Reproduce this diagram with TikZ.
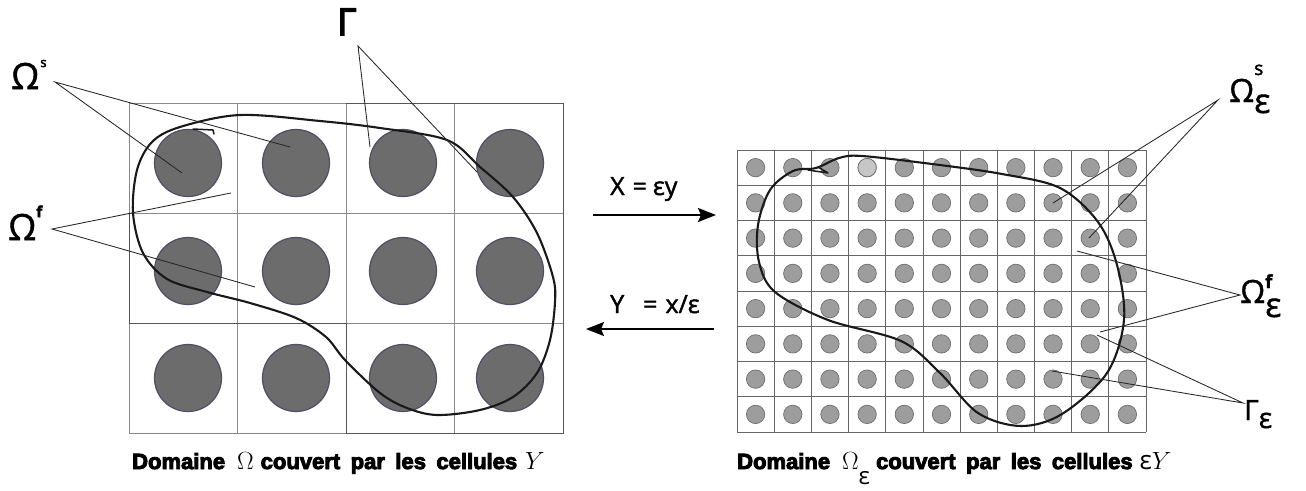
\documentclass[tikz,border=0pt]{standalone}
\usepackage{fontspec}
\setmainfont{Open Sans}
\newfontfamily\capfont{Liberation Sans}
\newfontfamily\thinfont{Open Sans}
\newcommand\heavyon[1]{\special{pdf:literal direct 2 Tr #1 w}}
\newcommand\heavyoff{\special{pdf:literal direct 0 Tr}}
\usetikzlibrary{arrows.meta}
\definecolor{discdark}{HTML}{6C6C6C}
\definecolor{discedge}{HTML}{4E4E66}
\definecolor{disclight}{HTML}{9D9D9D}
\definecolor{disclightedge}{HTML}{6E6E6E}
\definecolor{discpale}{HTML}{C6C6C6}
\definecolor{gridgray}{HTML}{8A8A8A}
\definecolor{griddark}{HTML}{555555}
\begin{document}
\begin{tikzpicture}[x=1pt,y=-1pt,
  gridline/.style={draw=gridgray,line width=0.8pt},
  gridstrong/.style={draw=griddark,line width=0.9pt},
  bigdisc/.style={circle,inner sep=0pt,minimum size=67pt,fill=discdark,draw=discedge,line width=1.2pt},
  smalldisc/.style={circle,inner sep=0pt,minimum size=18.4pt,fill=disclight,draw=disclightedge,line width=0.7pt},
  boundary/.style={draw=black!90,line width=2.1pt,line join=round,line cap=round},
  leader/.style={draw=black!85,line width=0.85pt},
  maparrow/.style={draw=black,line width=1.8pt,-{Stealth[length=18pt,width=14pt,inset=3pt]}},
  lbl/.style={inner sep=0pt,anchor=base west},
]
\useasboundingbox[fill=white] (0,0) rectangle (1306,490);

% ---------------- left grid ----------------
\foreach \k in {0,...,4} \draw[gridline] ({129+108.5*\k},103) -- ({129+108.5*\k},433);
\foreach \k in {0,...,3} \draw[gridline] (129,{103+110*\k}) -- (563,{103+110*\k});
\draw[gridstrong] (346,103) -- (563,103) -- (563,433) -- (346,433) -- (346,323);
\draw[gridstrong] (129,213) -- (129,323) -- (346,323);

\foreach \i/\x in {1/188,2/296,3/403,4/510}
  \foreach \j/\y in {1/163,2/271,3/378}
    \node[bigdisc] (c\i\j) at (\x,\y) {};

% ---------------- right grid ----------------
\foreach \k in {0,...,11} \draw[gridline,draw=black!60] ({737+37.18*\k},150) -- ({737+37.18*\k},432);
\foreach \k in {0,...,8} \draw[gridline,draw=black!60] (737,{150+35.25*\k}) -- (1146,{150+35.25*\k});
\foreach \i in {0,...,10}
  \foreach \j in {0,...,7}
    \node[smalldisc] (d\i-\j) at ({737+37.18*(\i+0.5)},{150+35.25*(\j+0.5)}) {};
\node[smalldisc,fill=discpale] (dpale) at (d3-0) {};

% ---------------- boundaries ----------------
\draw[boundary] plot[smooth cycle,tension=0.55] coordinates {
  (180,127) (240,115) (320,121) (380,128) (447,140) (480,167) (513,197) (537,233)
  (553,277) (555,302) (550,340) (537,373) (513,397) (480,410) (437,415) (407,408)
  (380,393) (345,360) (326,337) (296,318) (250,303) (207,292) (167,279) (143,253)
  (133,213) (137,170) (152,142)};
\draw[boundary,line width=1.5pt] (193,129) -- (213,130) -- (214,134);

\draw[boundary] plot[smooth cycle,tension=0.55] coordinates {
  (793,171) (770,190) (758,225) (759,262) (775,292) (828,320) (901,341) (940,373)
  (978,413) (1021,426) (1062,414) (1107,373) (1124,320) (1117,265) (1098,222)
  (1060,188) (1002,174) (932,164) (862,156) (839,158) (816,168)};
\draw[boundary,line width=1.5pt] (808,170) -- (828,173) (818,167) -- (828,173);

% ---------------- labels left ----------------
\node[lbl] (ls) at (11,89) {\heavyon{0.5}\fontsize{36}{36}\selectfont Ω\hspace{1pt}\raisebox{22pt}{\fontsize{13}{13}\selectfont s}\heavyoff};
\node[lbl] (lf) at (8,240) {\heavyon{0.5}\fontsize{36}{36}\selectfont Ω\raisebox{23pt}{\fontsize{15}{15}\selectfont\bfseries f}\heavyoff};
\node[lbl] (lg) at (337,35) {\heavyon{1.6}\fontsize{37}{37}\selectfont Γ\heavyoff};

\coordinate (ls-apex) at (55,82);
\coordinate (ls-e1) at (182,173);
\coordinate (ls-e2) at (290,147);
\coordinate (lf-apex) at (52,229);
\coordinate (lf-e1) at (231,193);
\coordinate (lf-e2) at (255,287);
\coordinate (lg-apex) at (358,46);
\coordinate (lg-e1) at (370,147);
\coordinate (lg-e2) at (477,172);
\draw[leader] (ls-e1) -- (ls-apex) -- (ls-e2);
\draw[leader] (lf-e1) -- (lf-apex) -- (lf-e2);
\draw[leader] (lg-e1) -- (lg-apex) -- (lg-e2);

% ---------------- labels right ----------------
\node[lbl] (rs) at (1229,102) {\heavyon{0.4}\fontsize{32}{32}\selectfont Ω\rlap{\raisebox{27pt}{\fontsize{19}{19}\selectfont s}}\raisebox{-11pt}{\fontsize{34}{34}\selectfont ε}\heavyoff};
\node[lbl] (rf) at (1240,303) {\heavyon{0.4}\fontsize{32}{32}\selectfont Ω\rlap{\raisebox{15pt}{\fontsize{18}{18}\selectfont\bfseries f}}\raisebox{-14pt}{\fontsize{34}{34}\selectfont ε}\heavyoff};
\node[lbl] (rg) at (1244,420) {\heavyon{0.4}\fontsize{28}{28}\selectfont Γ\raisebox{-8pt}{\fontsize{28}{28}\selectfont ε}\heavyoff};

\coordinate (rs-apex) at (1218,100);
\coordinate (rs-e1) at (1053,203);
\coordinate (rs-e2) at (1089,238);
\coordinate (rf-apex) at (1240,295);
\coordinate (rf-e1) at (1077,251);
\coordinate (rf-e2) at (1100,332);
\coordinate (rg-apex) at (1243,403);
\coordinate (rg-e1) at (1097,335);
\coordinate (rg-e2) at (1052,371);
\draw[leader] (rs-e1) -- (rs-apex) -- (rs-e2);
\draw[leader] (rf-e1) -- (rf-apex) -- (rf-e2);
\draw[leader] (rg-e1) -- (rg-apex) -- (rg-e2);

% ---------------- arrows ----------------
\coordinate (a1s) at (593,215);
\coordinate (a1e) at (716,215);
\coordinate (a2s) at (714,329);
\coordinate (a2e) at (586,329);
\draw[maparrow] (a1s) -- (a1e);
\draw[maparrow] (a2s) -- (a2e);
\node[lbl] (t1) at (610,195) {\heavyon{0.4}\fontsize{25}{25}\selectfont X\hspace{8pt}=\hspace{6pt}εy\heavyoff};
\node[lbl] (t2) at (610,313) {\heavyon{0.4}\fontsize{25}{25}\selectfont Y\hspace{19pt}=\hspace{8pt}x/ε\heavyoff};

% ---------------- captions ----------------
\node[lbl] (cap1) at (132,469) {\capfont\bfseries\fontsize{22}{22}\selectfont \heavyon{0.9}Domaine\heavyoff\hspace{12pt}{\fontsize{29}{29}\selectfont$\Omega$}\hspace{7pt}\heavyon{0.9}{\spaceskip=10.5pt couvert par les cellules}\heavyoff\hspace{8pt}{\fontsize{28}{28}\selectfont$Y$}};
\node[lbl] (cap2) at (737,469) {\capfont\bfseries\fontsize{22}{22}\selectfont \heavyon{0.9}Domaine\heavyoff\hspace{12pt}{\fontsize{31}{31}\selectfont$\Omega$}\raisebox{-15pt}{\fontsize{24}{24}\selectfont\mdseries\thinfont ε}\hspace{6pt}\heavyon{0.9}{\spaceskip=10.5pt couvert par les cellules}\heavyoff\hspace{7pt}{\fontsize{26}{26}\selectfont\mdseries\thinfont ε}{\fontsize{28}{28}\selectfont$Y$}};
\end{tikzpicture}
\end{document}
